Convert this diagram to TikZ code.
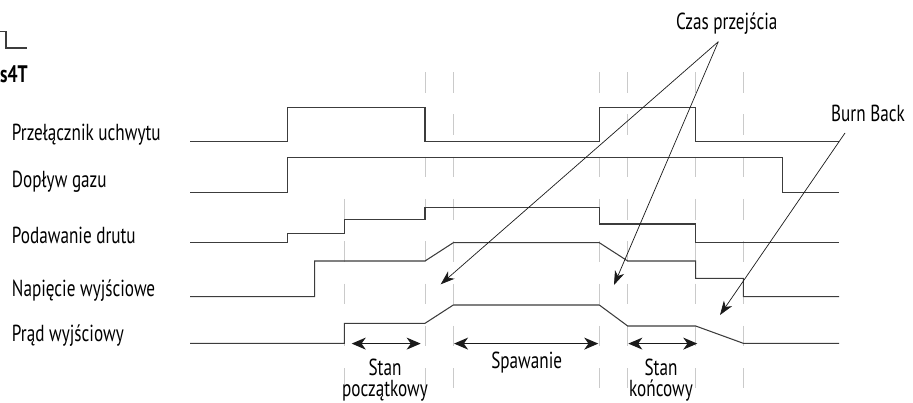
\documentclass[tikz,border=0pt]{standalone}
\usepackage{fontspec}
\setmainfont{PT Sans}[FakeStretch=0.74]
\usetikzlibrary{arrows.meta,positioning}
\definecolor{Ink}{HTML}{1A1A1A}
\definecolor{Trace}{HTML}{3C3C3C}
\definecolor{Guide}{HTML}{CACACA}
\tikzset{
 sigtext/.style={anchor=base west, inner sep=0pt, font=\fontsize{16.5}{15}\selectfont},
 note/.style={anchor=base, align=center, inner sep=0pt, font=\fontsize{16.5}{15}\selectfont},
 trace/.style={draw=Trace, line width=0.75pt},
 guide/.style={draw=Guide, line width=0.6pt, dash pattern=on 14.6pt off 15.5pt},
 callout/.style={-{Stealth[length=10pt,width=7pt,inset=3pt]}, draw=Ink, line width=0.5pt},
 span/.style={{Stealth[length=10pt,width=8.5pt,inset=3pt]}-{Stealth[length=10pt,width=8.5pt,inset=3pt]}, draw=Ink, line width=0.9pt}
}
\begin{document}
\begin{tikzpicture}[x=0.025cm,y=-0.025cm]
\useasboundingbox (0,0) rectangle (913,402);
% mode mark, top left
\draw[trace] (0,31.7) -- (6,31.7) -- (6,48) -- (27.3,48);
\node[anchor=base east,inner sep=0pt,font=\fontsize{17}{15}\selectfont\bfseries] (mode) at (28,82) {s4T};
% signal names
\node[sigtext] (torch) at (11.7,140) {Przełącznik uchwytu};
\node[sigtext] (gas) at (11.7,187.5) {Dopływ gazu};
\node[sigtext] (wire) at (11.7,243.3) {Podawanie drutu};
\node[sigtext] (volt) at (11.7,296.7) {Napięcie wyjściowe};
\node[sigtext] (curr) at (11.7,341.7) {Prąd wyjściowy};
% time marks
\draw[guide] (344.3,198.9) -- (344.3,388)
 (425,72) -- (425,388) (453.3,72) -- (453.3,388)
 (599.3,72) -- (599.3,388) (627.7,72) -- (627.7,388)
 (695.7,72) -- (695.7,388) (743.3,72) -- (743.3,388);
% waveforms
\draw[trace] (190,141.7) -- (287.3,141.7) -- (287.3,107.7) -- (425,107.7) -- (425,141.7) -- (599.3,141.7) -- (599.3,107.7) -- (695.7,107.7) -- (695.7,141.7) -- (839,141.7);
\draw[trace] (190,192.3) -- (287.3,192.3) -- (287.3,157.7) -- (782.7,157.7) -- (782.7,192.7) -- (839,192.7);
\draw[trace] (190,242.7) -- (287.3,242.7) -- (287.3,233.3) -- (344.3,233.3) -- (344.3,219.3) -- (425,219.3) -- (425,207.7) -- (599.3,207.7) -- (599.3,224) -- (695.7,224) -- (695.7,242.7) -- (839,242.7);
\draw[trace] (190,296.7) -- (314.7,296.7) -- (314.7,261) -- (425,261) -- (453.3,242.7) -- (599.3,242.7) -- (627.7,261) -- (695.7,261) -- (695.7,278.3) -- (743.3,278.3) -- (743.3,296.7) -- (839,296.7);
\draw[trace] (190,343.3) -- (344.3,343.3) -- (344.3,323.3) -- (425,323.3) -- (453.3,305) -- (599.3,305) -- (627.7,326) -- (695.7,326) -- (743.3,343.3) -- (839,343.3);
% callouts
\node[note] (czas) at (726.7,29.3) {Czas przejścia};
\coordinate (czasfoot) at (718.3,41.7);
\coordinate (rampup) at (440.7,284.3);
\coordinate (rampdown) at (614,285);
\draw[callout] (czasfoot) -- (rampup);
\draw[callout] (czasfoot) -- (rampdown);
\node[note] (burn) at (868,121.7) {Burn Back};
\coordinate (burnfoot) at (845,133);
\coordinate (burntail) at (720,315);
\draw[callout] (burnfoot) -- (burntail);
% phases
\coordinate (startL) at (351.7,343.6);
\coordinate (startR) at (420.7,343.6);
\coordinate (weldL) at (454,343.6);
\coordinate (weldR) at (598.3,343.6);
\coordinate (endL) at (628.3,343.6);
\coordinate (endR) at (697.3,343.6);
\draw[span] (startL) -- (startR);
\draw[span] (weldL) -- (weldR);
\draw[span] (endL) -- (endR);
\node[note] (startstate) at (385,396.5) {Stan\\początkowy};
\node[note] (weld) at (526.7,368.3) {Spawanie};
\node[note] (endstate) at (661,396.5) {Stan\\końcowy};
\end{tikzpicture}
\end{document}
